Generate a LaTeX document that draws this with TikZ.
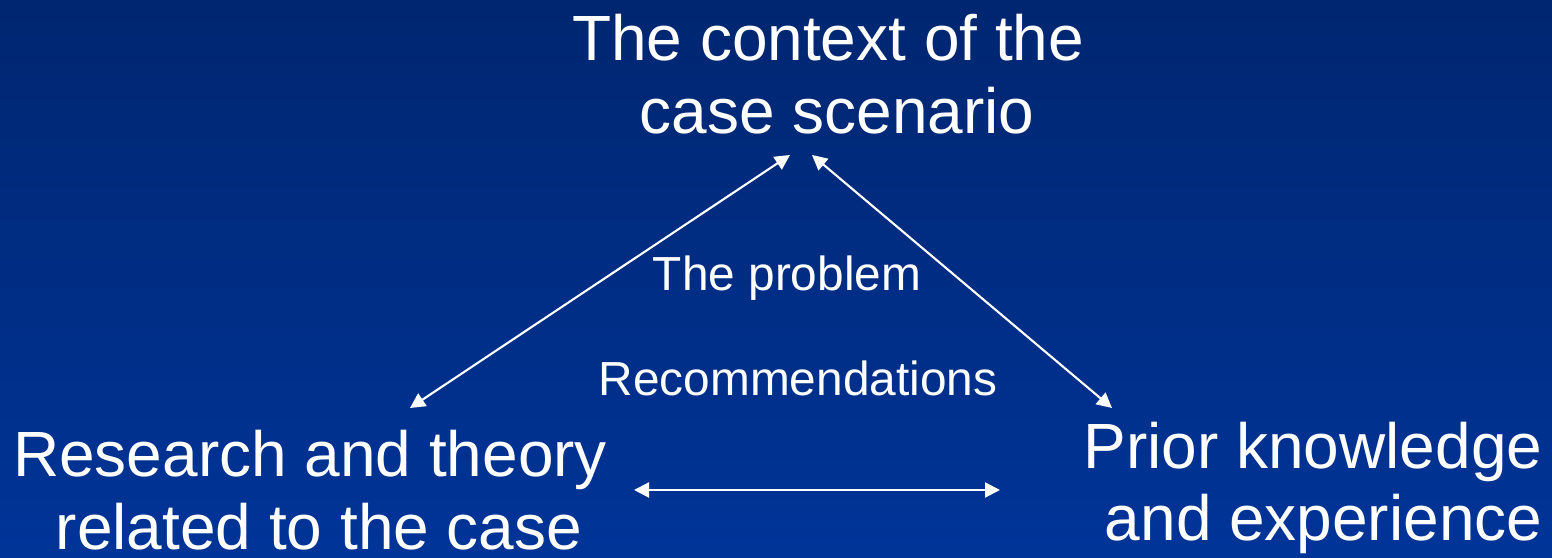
\documentclass[tikz,border=0pt]{standalone}
\usepackage{fontspec}
\setmainfont{Liberation Sans}
\usetikzlibrary{arrows.meta,positioning}
\definecolor{bgTop}{RGB}{0,38,112}
\definecolor{bgBottom}{RGB}{0,52,152}
\newcommand{\bigfont}{\fontsize{18.2}{20.7}\selectfont}
\newcommand{\smallfont}{\fontsize{13.6}{15}\selectfont}

\begin{document}
\begin{tikzpicture}[
        big/.style={text=white, align=center, font=\bigfont, inner sep=0pt},
        small/.style={text=white, align=center, font=\smallfont, inner sep=0pt},
        arr/.style={{Triangle[length=1.5mm,width=1.5mm]}-{Triangle[length=1.5mm,width=1.5mm]}, line width=0.6pt, white}
      ]
      \shade[top color=bgTop, bottom color=bgBottom] (0,0) rectangle (15.52,5.58);
      \useasboundingbox (0,0) rectangle (15.52,5.58);

      \node[big] (ctx) at (8.37,4.84) {The context of the\ \null \\ case scenario};
      \node[big] (res) at (3.19,0.68) {Research and theory\ \null \\ related to the case};
      \node[big, align=right, anchor=east] (prior) at (15.43,0.70) {Prior knowledge \\ and experience};
      \node[small] (prob) at (7.87,2.80) {The problem};
      \node[small] (rec) at (7.98,1.80) {Recommendations};

      % arrow ends
      \coordinate (ctxL) at (7.90,4.03);
      \coordinate (ctxR) at (8.12,4.03);
      \coordinate (resT) at (4.10,1.50);
      \coordinate (priorT) at (11.12,1.50);
      \coordinate (resR) at (6.34,0.68);
      \coordinate (priorL) at (10.00,0.68);

      \draw[arr] (resT) -- (ctxL);
      \draw[arr] (ctxR) -- (priorT);
      \draw[arr] (resR) -- (priorL);
    \end{tikzpicture}
\end{document}
